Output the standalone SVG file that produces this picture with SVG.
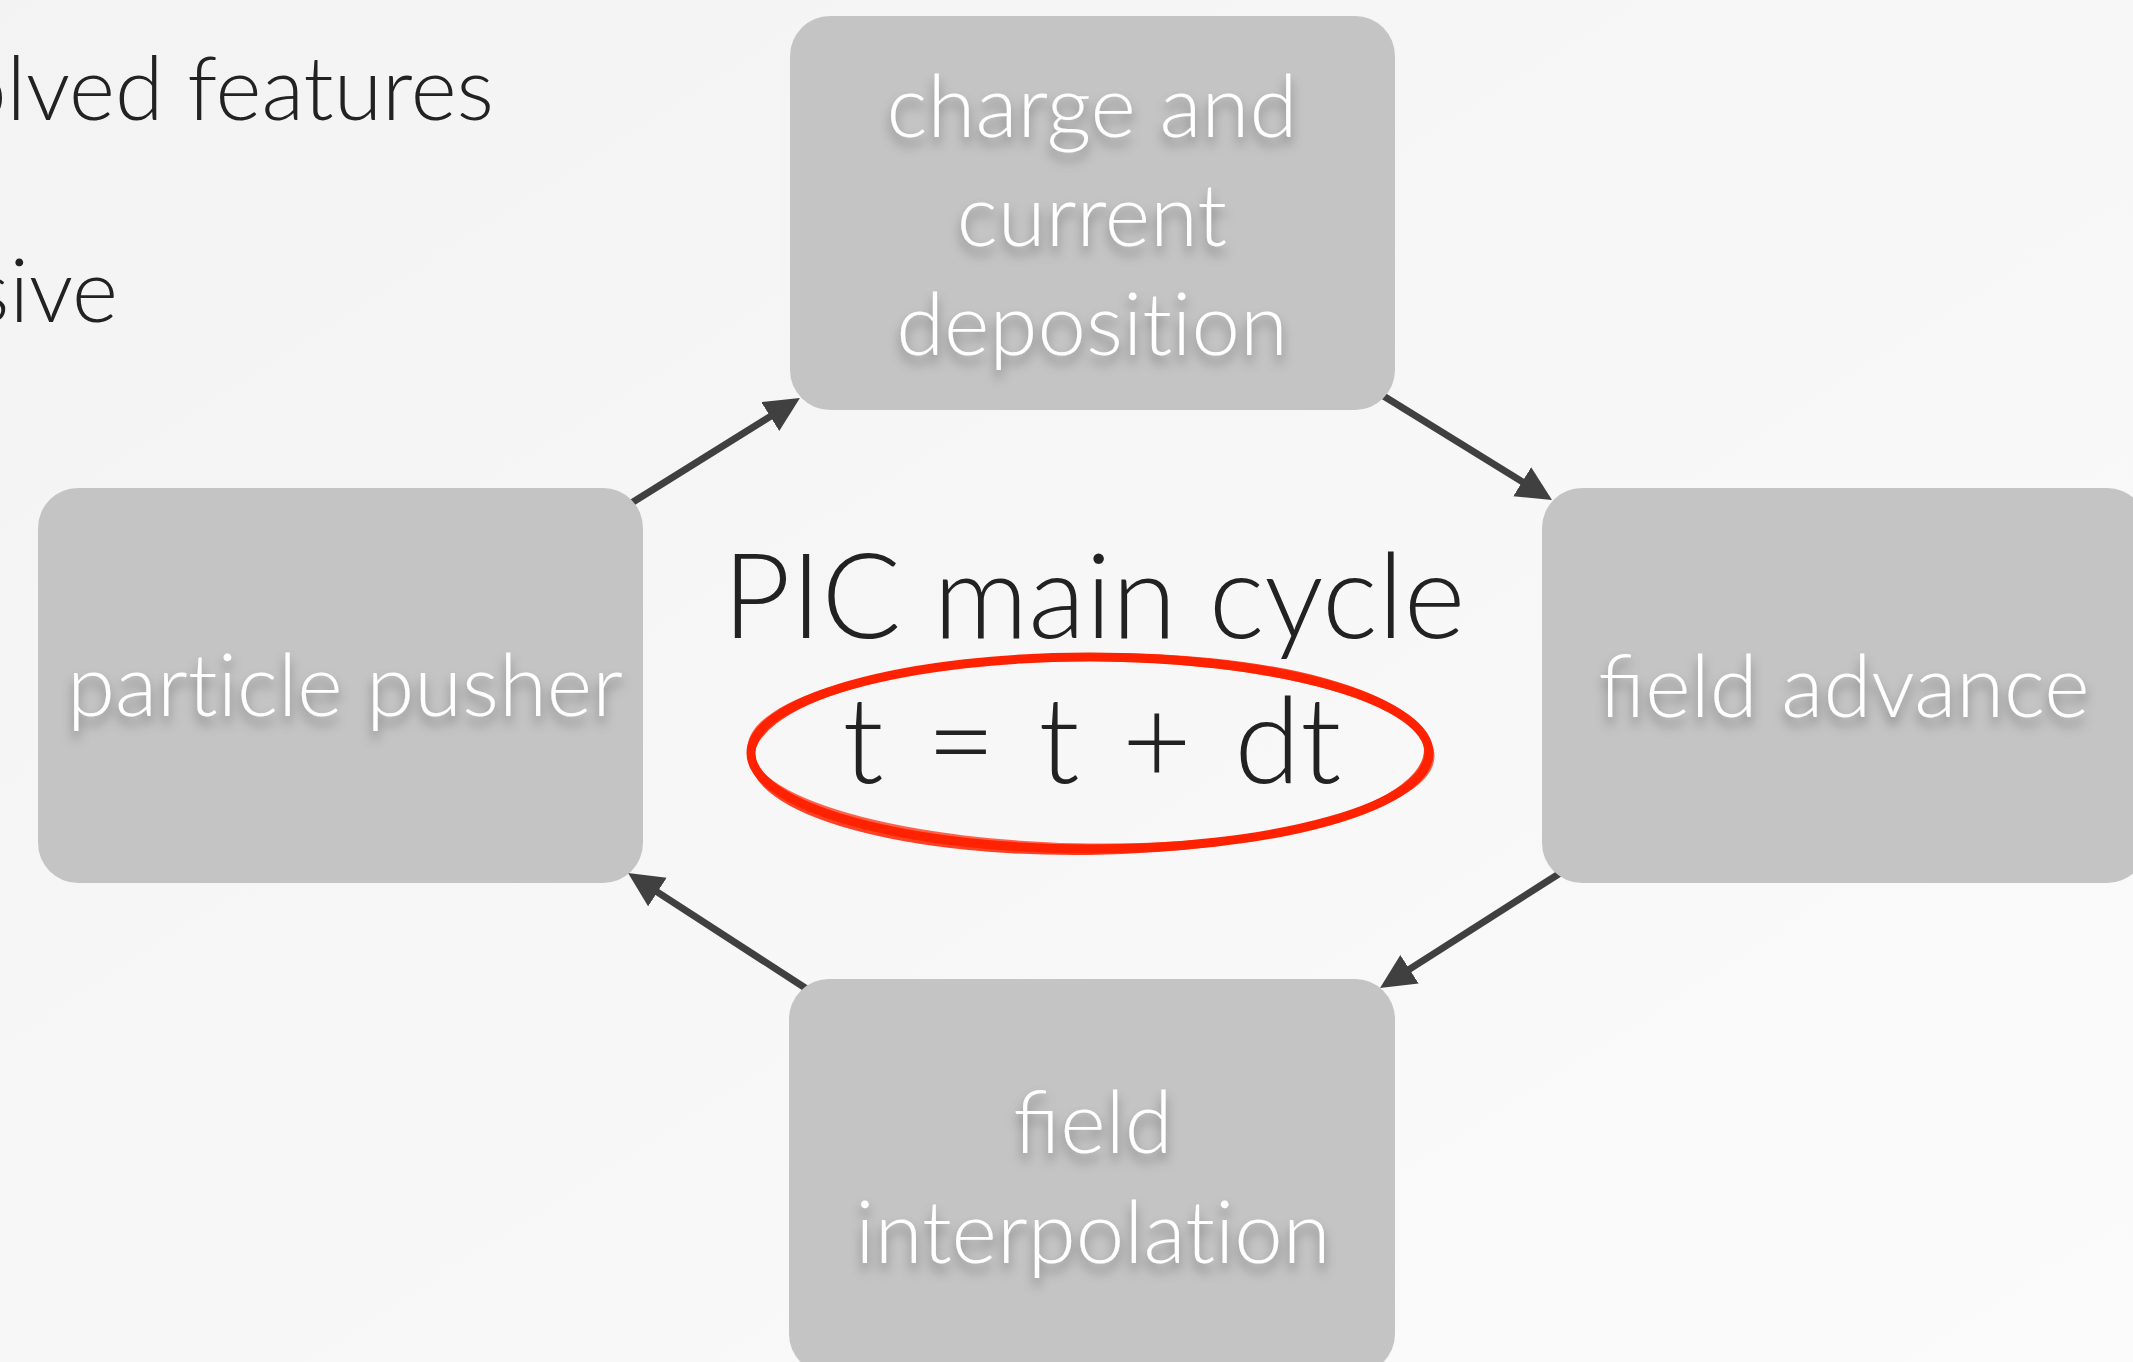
<svg xmlns="http://www.w3.org/2000/svg" width="2133" height="1362" viewBox="0 0 2133 1362">
  <style>
    .box { fill: #c4c4c4; }
    .lbl { font-family: Lato, "Open Sans", "Liberation Sans", sans-serif; font-weight: 300; font-size: 87px; fill: #ffffff; text-anchor: middle; filter: url(#tshadow); }
    .noliga { font-variant-ligatures: none; }
    .dark { font-family: Lato, "Open Sans", "Liberation Sans", sans-serif; font-weight: 300; fill: #222222; }
    .conn { stroke: #404040; stroke-width: 7; fill: none; marker-end: url(#ah); }
    .red { fill: none; stroke: #ff2200; }
  </style>
  <defs>
    <linearGradient id="bg" x1="0" y1="0" x2="1" y2="1">
      <stop offset="0" stop-color="#f3f3f3"/>
      <stop offset="1" stop-color="#fbfbfb"/>
    </linearGradient>
    <filter id="tshadow" x="-10%" y="-30%" width="120%" height="170%">
      <feGaussianBlur in="SourceAlpha" stdDeviation="6"/>
      <feOffset dx="0" dy="8" result="b"/>
      <feFlood flood-color="#000000" flood-opacity="0.38"/>
      <feComposite in2="b" operator="in"/>
      <feMerge><feMergeNode/><feMergeNode in="SourceGraphic"/></feMerge>
    </filter>
    <marker id="ah" markerUnits="userSpaceOnUse" markerWidth="36" markerHeight="36" refX="5" refY="17" orient="auto">
      <path d="M0,0 L35,17 L0,34 Z" fill="#404040"/>
    </marker>
  </defs>

  <rect x="0" y="0" width="2133" height="1362" fill="url(#bg)"/>

  <g id="bullets">
    <text class="dark" x="494" y="120" font-size="88" text-anchor="end">olved features</text>
    <text class="dark" x="118" y="322" font-size="88" text-anchor="end">sive</text>
  </g>

  <g id="connectors">
    <line class="conn" x1="625" y1="507" x2="774.5" y2="413.9"/>
    <line class="conn" x1="1377" y1="392" x2="1526.5" y2="484.3"/>
    <line class="conn" x1="1565" y1="870" x2="1405.3" y2="971.9"/>
    <line class="conn" x1="813" y1="993" x2="653.2" y2="889.4"/>
  </g>

  <g id="node-deposition">
    <rect class="box" x="790" y="16" width="605" height="394" rx="40" ry="40"/>
    <text class="lbl" x="1092" y="137">charge and</text>
    <text class="lbl" x="1092" y="246">current</text>
    <text class="lbl noliga" x="1092" y="355">deposition</text>
  </g>

  <g id="node-pusher">
    <rect class="box" x="38" y="488" width="605" height="395" rx="40" ry="40"/>
    <text class="lbl noliga" x="345" y="716">particle pusher</text>
  </g>

  <g id="node-field-advance">
    <rect class="box" x="1542" y="488" width="605" height="395" rx="40" ry="40"/>
    <text class="lbl" x="1844" y="717">field advance</text>
  </g>

  <g id="node-interpolation">
    <rect class="box" x="789" y="979" width="606" height="395" rx="40" ry="40"/>
    <text class="lbl" x="1093" y="1153">field</text>
    <text class="lbl noliga" x="1093" y="1263">interpolation</text>
  </g>

  <g id="center-label">
    <text class="dark" x="1094" y="638" font-size="118" text-anchor="middle">PIC main cycle</text>
    <g id="red-ellipse">
      <ellipse class="red" cx="1090" cy="753" rx="339" ry="96" stroke-width="9"/>
      <ellipse class="red" cx="1089" cy="754" rx="337" ry="99" stroke-width="4" opacity="0.85" transform="rotate(-0.8 1089 754)"/>
      <ellipse class="red" cx="1091" cy="752" rx="342" ry="93" stroke-width="3" opacity="0.7" transform="rotate(0.7 1091 752)"/>
    </g>
    <text class="dark" x="1092" y="783" font-size="120" text-anchor="middle" word-spacing="10">t = t + dt</text>
  </g>
</svg>
